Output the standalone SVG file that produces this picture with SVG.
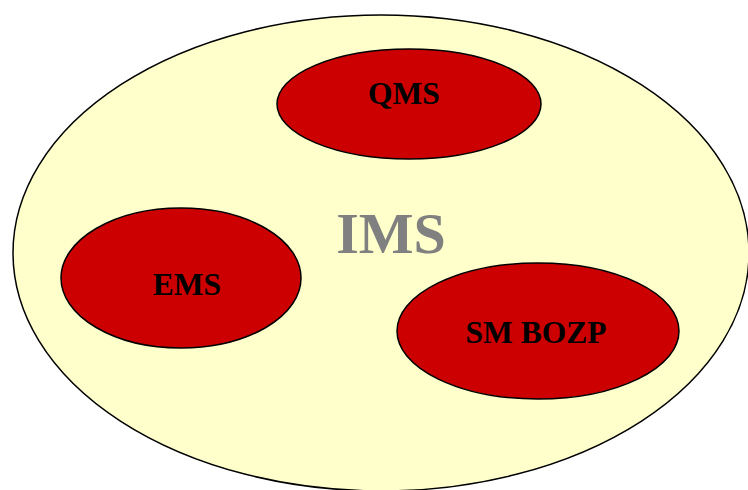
<svg xmlns="http://www.w3.org/2000/svg" width="748" height="490" viewBox="0 0 748 490">
  <style>
    .sub { fill: #cc0000; stroke: #000; stroke-width: 1.5; }
    .lbl { font-family: "Liberation Serif", "Times New Roman", serif; font-weight: bold; font-size: 31.5px; fill: #000; text-anchor: middle; }
  </style>
  <rect width="748" height="490" fill="#fff"/>
  <!-- integrated management system -->
  <g id="ims">
    <ellipse cx="381" cy="253" rx="368" ry="238" fill="#ffffcc" stroke="#000" stroke-width="1.5"/>
    <text x="391" y="253" font-family="Liberation Serif, serif" font-weight="bold" font-size="58" fill="#808080" text-anchor="middle">IMS</text>
  </g>
  <g id="qms">
    <ellipse class="sub" cx="409" cy="104" rx="132" ry="55"/>
    <text class="lbl" x="404" y="104">QMS</text>
  </g>
  <g id="ems">
    <ellipse class="sub" cx="181" cy="278" rx="120" ry="70"/>
    <text class="lbl" x="187" y="295">EMS</text>
  </g>
  <g id="sm-bozp">
    <ellipse class="sub" cx="538" cy="331" rx="141" ry="68"/>
    <text class="lbl" x="536" y="343">SM BOZP</text>
  </g>
  <g id="connectors"/>
</svg>
